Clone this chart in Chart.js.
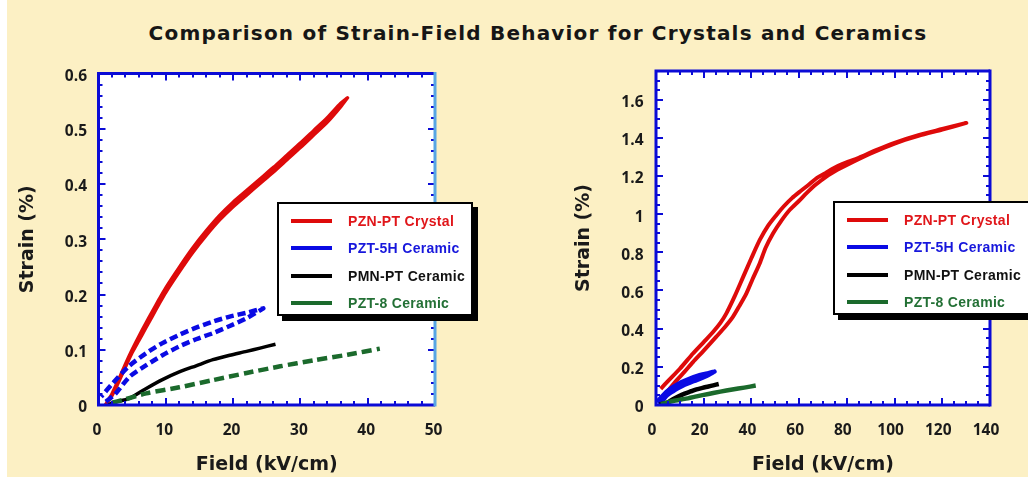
<!DOCTYPE html>
<html>
<head>
<meta charset="utf-8">
<script src="https://cdn.jsdelivr.net/npm/chart.js@4.4.1/dist/chart.umd.min.js"></script>
<style>
  html, body { margin: 0; padding: 0; }
  body { width: 1028px; height: 477px; overflow: hidden; background: #fff; position: relative; }
  #bg { position: absolute; left: 7px; top: 0; right: 0; bottom: 0; background: #FCF0C4; }
  #title {
    position: absolute; left: 0; top: 21px; width: 1076px; text-align: center;
    font: bold 20px "DejaVu Sans", sans-serif; line-height: 24px; letter-spacing: 1.2px; color: #161616;
  }
  canvas { position: absolute; top: 0; }
  #cLeft { left: 0; }
  #cRight { left: 514px; }
  .legend {
    position: absolute; height: 114px; background: #fff; border: 2px solid #000;
    box-shadow: 5px 5px 0 #000; box-sizing: border-box;
  }
  #legLeft { left: 277px; top: 202px; width: 196px; }
  #legRight { left: 833px; top: 201px; width: 220px; }
  .row { position: absolute; left: 0; height: 18px; display: flex; align-items: center; }
  .row .swatch { position: absolute; left: 12px; width: 41px; height: 4px; }
  .row .lbl {
    position: absolute; left: 69px; white-space: nowrap;
    font: bold 14px "Liberation Sans", Arial, sans-serif; letter-spacing: 0.3px;
  }
</style>
</head>
<body>
<div id="bg"></div>
<div id="title">Comparison of Strain-Field Behavior for Crystals and Ceramics</div>
<canvas id="cLeft" width="500" height="477"></canvas>
<canvas id="cRight" width="514" height="477"></canvas>
<div class="legend" id="legLeft"></div>
<div class="legend" id="legRight"></div>
<script>
// ---- Series: [field (kV/cm), strain (%)] ----
// PZN-PT crystal, low-field loop (rising then falling branch)
const pznPtLowRise = [[1,0],[2,0.017],[3,0.042],[4,0.069],[5,0.095],[6,0.117],[7,0.139],[8,0.161],[9,0.183],[10,0.204],[12,0.241],[14,0.276],[16,0.307],[18,0.335],[20,0.359],[22,0.38],[24,0.401],[26,0.422],[28,0.444],[30,0.466],[32,0.489],[34,0.512],[36,0.54],[37,0.556]];
const pznPtLowFall = [[37,0.556],[36,0.546],[34,0.52],[32,0.497],[30,0.474],[28,0.452],[26,0.43],[24,0.409],[22,0.388],[20,0.367],[18,0.343],[16,0.315],[14,0.284],[12,0.249],[10,0.212],[9,0.191],[8,0.169],[7,0.147],[6,0.124],[5,0.1],[4,0.074],[3,0.046],[2,0.02],[1.2,0.004]];

// PZN-PT crystal, high-field loop
const pznPtHighRise = [[3.5,0.05],[8,0.12],[12,0.175],[15.5,0.225],[20,0.285],[25.3,0.358],[29,0.41],[32.3,0.463],[35,0.52],[37.9,0.585],[40.5,0.66],[43.5,0.743],[46,0.825],[49.1,0.9],[52.5,0.965],[56.1,1.023],[60,1.07],[63.1,1.11],[67,1.155],[71.4,1.197],[76,1.232],[80,1.258],[90,1.318],[100,1.37],[110,1.41],[120,1.443],[130.1,1.478]];
const pznPtHighFall = [[130.1,1.478],[120,1.446],[110,1.414],[100,1.374],[92,1.334],[85,1.295],[78,1.262],[74,1.238],[71,1.215],[67.5,1.19],[64,1.154],[60.5,1.12],[57,1.084],[53.5,1.04],[50.5,0.996],[47,0.94],[43.5,0.865],[40,0.77],[36.5,0.67],[33,0.57],[29.5,0.48],[27,0.43],[24,0.384],[20,0.33],[15.5,0.27],[10,0.19],[5,0.125],[2,0.085]];

// PZT-5H ceramic loop
const pzt5hRise = [[1.1,0.006],[2.5,0.02],[4.6,0.051],[7.1,0.072],[9.5,0.09],[12,0.106],[14.5,0.119],[17,0.13],[19.5,0.143],[22,0.157],[24.5,0.175]];
const pzt5hFall = [[24.5,0.175],[22,0.167],[19.5,0.16],[17,0.151],[14.5,0.14],[12,0.127],[9.5,0.112],[7.1,0.094],[4.5,0.07],[2.1,0.039],[0.4,0.015]];

// PMN-PT ceramic
const pmnPt = [[1.5,0],[2.1,0.004],[4.6,0.012],[7.1,0.03],[9.5,0.046],[12,0.06],[14.5,0.071],[17,0.082],[19.5,0.09],[22,0.097],[24,0.103],[26.3,0.11]];

// PZT-8 ceramic
const pzt8 = [[2,0.004],[3.6,0.009],[7.1,0.021],[12,0.032],[17,0.045],[22,0.058],[27,0.07],[32,0.081],[37,0.091],[41.8,0.102]];

// ---- Tick labels ----
const leftFieldTicks = [0, 10, 20, 30, 40, 50];
const leftStrainTicks = [0, 0.1, 0.2, 0.3, 0.4, 0.5, 0.6];
const rightFieldTicks = [0, 20, 40, 60, 80, 100, 120, 140];
const rightStrainTicks = [0, 0.2, 0.4, 0.6, 0.8, 1, 1.2, 1.4, 1.6];

// ---- Legend ----
const seriesNames = ['PZN-PT Crystal', 'PZT-5H Ceramic', 'PMN-PT Ceramic', 'PZT-8 Ceramic'];
const seriesColors = ['#DE0A0A', '#0A0AE4', '#000000', '#1B6A2C'];
const labelColors = ['#E0161A', '#1717DC', '#111111', '#237035'];

const RED = seriesColors[0], BLUE = seriesColors[1], BLACK = seriesColors[2], GREEN = seriesColors[3];
const AXIS_BLUE = '#0B0BD6';
const TEXT = '#1a1a1a';

const toXY = arr => arr.map(([x, y]) => ({ x, y }));

// White plot area, then a blue frame with inward ticks on all four sides
const framePlugin = {
  id: 'frame',
  beforeDraw(chart) {
    const { ctx, chartArea: a } = chart;
    ctx.save();
    ctx.fillStyle = '#ffffff';
    ctx.fillRect(a.left, a.top, a.right - a.left, a.bottom - a.top);
    ctx.restore();
  },
  afterDatasetsDraw(chart, args, o) {
    const { ctx, chartArea: a, scales } = chart;
    const xs = scales.x, ys = scales.y;
    ctx.save();
    ctx.strokeStyle = AXIS_BLUE;
    ctx.lineWidth = 2;
    const isMajor = (v, majors, step) => majors.some(m => Math.abs(m - v) < step / 10);
    // x ticks (bottom and top)
    const nx = Math.round((xs.max - xs.min) / o.xMinor);
    for (let i = 0; i <= nx; i++) {
      const v = xs.min + i * o.xMinor;
      const px = Math.round(xs.getPixelForValue(v));
      const len = isMajor(v, o.xMajor, o.xMinor) ? 7 : 4;
      ctx.beginPath();
      ctx.moveTo(px, a.bottom); ctx.lineTo(px, a.bottom - len);
      ctx.moveTo(px, a.top); ctx.lineTo(px, a.top + len);
      ctx.stroke();
    }
    // y ticks (left and right)
    const ny = Math.round((ys.max - ys.min) / o.yMinor);
    for (let i = 0; i <= ny; i++) {
      const v = ys.min + i * o.yMinor;
      const py = Math.round(ys.getPixelForValue(v));
      const len = isMajor(v, o.yMajor, o.yMinor) ? 7 : 4;
      ctx.beginPath();
      ctx.moveTo(a.left, py); ctx.lineTo(a.left + len, py);
      ctx.moveTo(a.right, py); ctx.lineTo(a.right - len, py);
      ctx.stroke();
    }
    // frame
    ctx.lineWidth = 3;
    ctx.beginPath();
    ctx.moveTo(a.right, a.top); ctx.lineTo(a.left, a.top); ctx.lineTo(a.left, a.bottom); ctx.lineTo(a.right, a.bottom);
    ctx.stroke();
    ctx.strokeStyle = o.rightColor || AXIS_BLUE;
    ctx.beginPath();
    ctx.moveTo(a.right, a.top - 1.5); ctx.lineTo(a.right, a.bottom + 1.5);
    ctx.stroke();
    ctx.restore();
  }
};

function makeScales(cfg) {
  const tickFont = { family: '"Open Sans", sans-serif', weight: 'bold', size: 15.5 };
  const titleFont = { family: '"DejaVu Sans", sans-serif', weight: 'bold', size: 19 };
  return {
    x: {
      type: 'linear', min: cfg.xMin, max: cfg.xMax,
      grid: { display: false, drawTicks: false }, border: { display: false },
      afterBuildTicks: s => { s.ticks = cfg.xTicks.map(v => ({ value: v })); },
      afterFit: s => { s.height = cfg.xHeight; },
      ticks: { color: TEXT, font: tickFont, padding: 16, labelOffset: cfg.xLabelShift, maxRotation: 0, autoSkip: false, callback: v => String(v) },
      title: { display: true, text: 'Field (kV/cm)', color: TEXT, font: titleFont, padding: { top: 0, bottom: 1 } }
    },
    y: {
      type: 'linear', min: cfg.yMin, max: cfg.yMax,
      grid: { display: false, drawTicks: false }, border: { display: false },
      afterBuildTicks: s => { s.ticks = cfg.yTicks.map(v => ({ value: v })); },
      afterFit: s => { s.width = cfg.yWidth; },
      ticks: { color: TEXT, font: tickFont, padding: cfg.yLabelPad, labelOffset: 3, autoSkip: false, callback: v => String(v) },
      title: { display: true, text: 'Strain (%)', color: TEXT, font: titleFont, padding: { top: cfg.yTitlePad, bottom: 0 } }
    }
  };
}

function line(data, color, width, dash) {
  return {
    data: toXY(data), borderColor: color, borderWidth: width, borderDash: dash || [],
    pointRadius: 0, tension: 0.25, fill: false, borderCapStyle: 'butt', borderJoinStyle: 'round'
  };
}

const common = {
  responsive: false, animation: false, events: [],
  plugins: { legend: { display: false }, tooltip: { enabled: false } }
};

new Chart(document.getElementById('cLeft'), {
  type: 'line',
  data: {
    datasets: [
      line(pzt8, GREEN, 4.5, [10, 5]),
      line(pmnPt, BLACK, 3.5),
      line(pzt5hRise.concat(pzt5hFall), BLUE, 4.5, [8, 4]),
      line(pznPtLowRise.concat(pznPtLowFall), RED, 3.5)
    ]
  },
  options: Object.assign({}, common, {
    layout: { padding: { top: 73.5, right: 65, left: 0, bottom: 0 } },
    scales: makeScales({ xMin: 0, xMax: 50, yMin: 0, yMax: 0.6, xTicks: leftFieldTicks, yTicks: leftStrainTicks,
                         xHeight: 72, yWidth: 98.5, yTitlePad: 17, yLabelPad: 11.5, xLabelShift: -1.5 }),
    plugins: Object.assign({}, common.plugins, {
      frame: { xMinor: 2, xMajor: leftFieldTicks, yMinor: 0.02, yMajor: leftStrainTicks, rightColor: '#58A6E4' }
    })
  }),
  plugins: [framePlugin]
});

new Chart(document.getElementById('cRight'), {
  type: 'line',
  data: {
    datasets: [
      line(pzt8, GREEN, 4.5),
      line(pmnPt, BLACK, 4.5),
      line(pzt5hRise.concat(pzt5hFall), BLUE, 4.5),
      line(pznPtHighRise.concat(pznPtHighFall), RED, 4)
    ]
  },
  options: Object.assign({}, common, {
    layout: { padding: { top: 71, right: 38, left: 0, bottom: 0 } },
    scales: makeScales({ xMin: 0, xMax: 140, yMin: 0, yMax: 1.75, xTicks: rightFieldTicks, yTicks: rightStrainTicks,
                         xHeight: 72, yWidth: 142, yTitlePad: 59, yLabelPad: 12.5, xLabelShift: -4 }),
    plugins: Object.assign({}, common.plugins, {
      frame: { xMinor: 5, xMajor: rightFieldTicks, yMinor: 0.05, yMajor: rightStrainTicks }
    })
  }),
  plugins: [framePlugin]
});

// Legend boxes
function buildLegend(el) {
  const rowCenters = [19, 46, 74, 101];
  seriesNames.forEach((name, i) => {
    const row = document.createElement('div');
    row.className = 'row';
    row.style.top = (rowCenters[i] - 9 - 2) + 'px';
    const sw = document.createElement('div');
    sw.className = 'swatch';
    sw.style.background = seriesColors[i];
    const lbl = document.createElement('div');
    lbl.className = 'lbl';
    lbl.style.color = labelColors[i];
    lbl.textContent = name;
    row.appendChild(sw); row.appendChild(lbl);
    el.appendChild(row);
  });
}
buildLegend(document.getElementById('legLeft'));
buildLegend(document.getElementById('legRight'));
</script>
</body>
</html>
